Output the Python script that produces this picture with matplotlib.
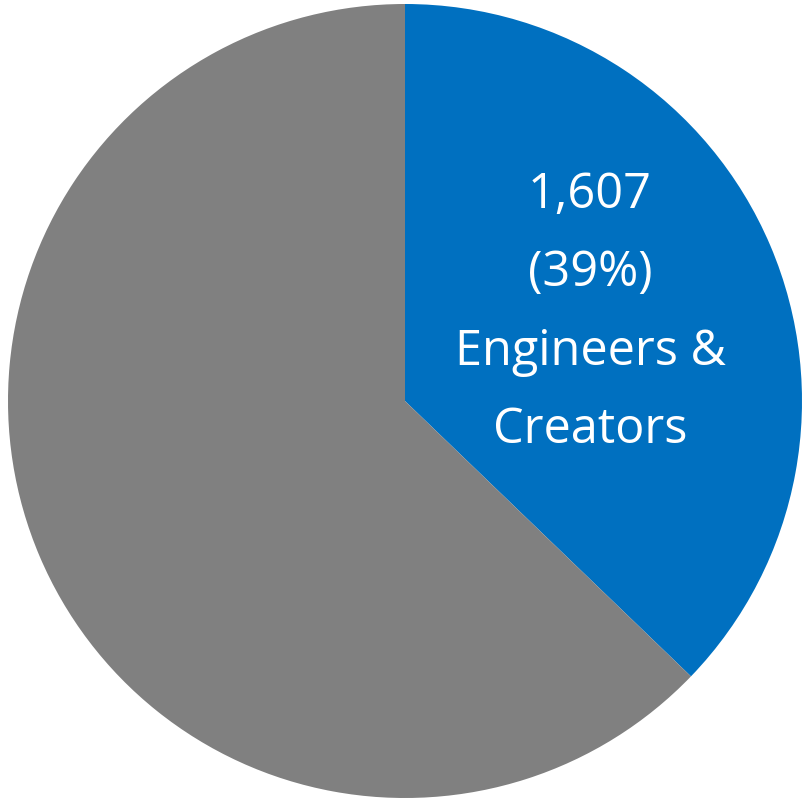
import matplotlib
matplotlib.use("Agg")
import matplotlib.pyplot as plt

# slice values (blue one is labelled, grey one unlabelled)
labels = ["Engineers & Creators", "Other"]
values = [1607, 2713]
colors = ["#0070C0", "#808080"]
label_text = "1,607\n(39%)\nEngineers &\nCreators"

W, H = 808, 804
fig = plt.figure(figsize=(W / 100, H / 100), dpi=100)

# circle centre (405, 402) px, radius 397 px
cx, cy, r = 405, 402, 397
ax = fig.add_axes([(cx - r) / W, (H - cy - r) / H, 2 * r / W, 2 * r / H])

ax.pie(values, colors=colors, startangle=90, counterclock=False,
       radius=1, wedgeprops=dict(linewidth=0))
ax.set_xlim(-1, 1)
ax.set_ylim(-1, 1)
ax.axis("off")

ax.text(0.466, 0.225, label_text, color="white", ha="center", va="center",
        fontsize=35, family=["Open Sans", "DejaVu Sans"], linespacing=1.77)

fig.savefig("out.png", dpi=100)
